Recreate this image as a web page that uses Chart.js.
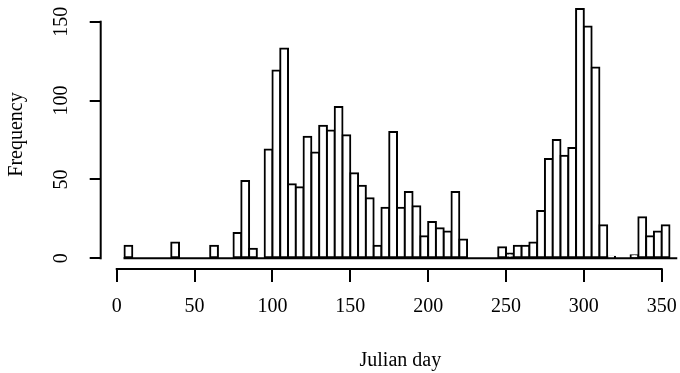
<!DOCTYPE html>
<html>
<head>
<meta charset="utf-8">
<script src="https://cdn.jsdelivr.net/npm/chart.js@4.4.1/dist/chart.umd.min.js"></script>
<style>
    html, body { margin: 0; padding: 0; overflow: hidden; background: #fff; }
    canvas { display: block; }
</style>
</head>
<body>
<canvas id="myChart" width="700" height="373"></canvas>
<script>
// histogram breaks (Julian day) and counts per bin
var breaks = [5, 10, 15, 20, 25, 30, 35, 40, 45, 50, 55, 60, 65, 70, 75, 80, 85, 90, 95, 100,
    105, 110, 115, 120, 125, 130, 135, 140, 145, 150, 155, 160, 165, 170, 175, 180, 185, 190, 195, 200,
    205, 210, 215, 220, 225, 230, 235, 240, 245, 250, 255, 260, 265, 270, 275, 280, 285, 290, 295, 300,
    305, 310, 315, 320, 325, 330, 335, 340, 345, 350, 355, 360];
var counts = [8, 0, 0, 0, 0, 0, 10, 0, 0, 0, 0, 8, 0, 0, 16, 49, 6, 0, 69, 119,
    133, 47, 45, 77, 67, 84, 81, 96, 78, 54, 46, 38, 8, 32, 80, 32, 42, 33, 14, 23,
    19, 17, 42, 12, 0, 0, 0, 0, 7, 3, 8, 8, 10, 30, 63, 75, 65, 70, 158, 147,
    121, 21, 1, 0, 0, 2, 26, 14, 17, 21, 0];
var xTicks = [0, 50, 100, 150, 200, 250, 300, 350];
var yTicks = [0, 50, 100, 150];

var serif = 'Liberation Serif';

// R style axes: lines only between first and last tick, plus the zero baseline under the bars
var rAxes = {
    id: 'rAxes',
    afterDatasetsDraw: function (chart) {
        var ctx = chart.ctx;
        var x = chart.scales.x;
        var y = chart.scales.y;
        ctx.save();
        ctx.strokeStyle = '#000';
        ctx.lineWidth = 2;
        ctx.lineCap = 'butt';
        ctx.beginPath();
        ctx.moveTo(x.getPixelForValue(breaks[0]) - 1, y.getPixelForValue(0));
        ctx.lineTo(x.getPixelForValue(breaks[breaks.length - 1]), y.getPixelForValue(0));
        ctx.stroke();
        ctx.beginPath();
        ctx.moveTo(x.getPixelForValue(xTicks[0]) - 1, chart.chartArea.bottom);
        ctx.lineTo(x.getPixelForValue(xTicks[xTicks.length - 1]) + 1, chart.chartArea.bottom);
        ctx.stroke();
        ctx.beginPath();
        ctx.moveTo(chart.chartArea.left, y.getPixelForValue(yTicks[0]) + 1);
        ctx.lineTo(chart.chartArea.left, y.getPixelForValue(yTicks[yTicks.length - 1]) - 1);
        ctx.stroke();
        ctx.restore();
    }
};

function histData() {
    var pts = [];
    for (var i = 0; i < counts.length; i++) {
        pts.push({ x: (breaks[i] + breaks[i + 1]) / 2, y: counts[i] });
    }
    return pts;
}

function fixTicks(values) {
    return function (scale) {
        scale.ticks = values.map(function (v) { return { value: v }; });
    };
}

// fixed axis boxes so the plot region matches the original
function fitX(scale) {
    scale.height = 104;
    scale.paddingLeft = 0;
    scale.paddingRight = 0;
}
function fitY(scale) {
    scale.width = 100.7;
    scale.paddingTop = 0;
    scale.paddingBottom = 0;
}

var ctx = document.getElementById('myChart');
var chart = new Chart(ctx, {
    type: 'bar',
    data: {
        datasets: [{
            label: 'Frequency',
            data: histData(),
            backgroundColor: '#fff',
            borderColor: '#000',
            borderWidth: 2,
            borderSkipped: false,
            inflateAmount: 1,
            barPercentage: 1,
            categoryPercentage: 1
        }]
    },
    options: {
        responsive: false,
        animation: false,
        layout: { padding: 0 },
        plugins: {
            legend: { display: false },
            tooltip: { enabled: false }
        },
        scales: {
            x: {
                type: 'linear',
                min: -10.3,
                max: 374.6,
                offset: false,
                afterBuildTicks: fixTicks(xTicks),
                afterFit: fitX,
                border: { display: false },
                grid: {
                    offset: false,
                    drawOnChartArea: false,
                    drawTicks: true,
                    tickLength: 13,
                    color: '#000',
                    lineWidth: 2
                },
                ticks: {
                    autoSkip: false,
                    maxRotation: 0,
                    padding: 13,
                    color: '#000',
                    font: { family: serif, size: 20 }
                },
                title: {
                    display: true,
                    text: 'Julian day',
                    color: '#000',
                    padding: { top: 0, bottom: 0 },
                    font: { family: serif, size: 20 }
                }
            },
            y: {
                min: -6.78,
                max: 163.76,
                afterBuildTicks: fixTicks(yTicks),
                afterFit: fitY,
                border: { display: false },
                grid: {
                    offset: false,
                    drawOnChartArea: false,
                    drawTicks: true,
                    tickLength: 11,
                    color: '#000',
                    lineWidth: 2
                },
                ticks: {
                    autoSkip: false,
                    minRotation: 90,
                    maxRotation: 90,
                    crossAlign: 'center',
                    padding: 12.5,
                    color: '#000',
                    font: { family: serif, size: 20 }
                },
                title: {
                    display: true,
                    text: 'Frequency',
                    color: '#000',
                    padding: { top: 5, bottom: 0 },
                    font: { family: serif, size: 20 }
                }
            }
        }
    },
    plugins: [rAxes]
});
</script>
</body>
</html>
